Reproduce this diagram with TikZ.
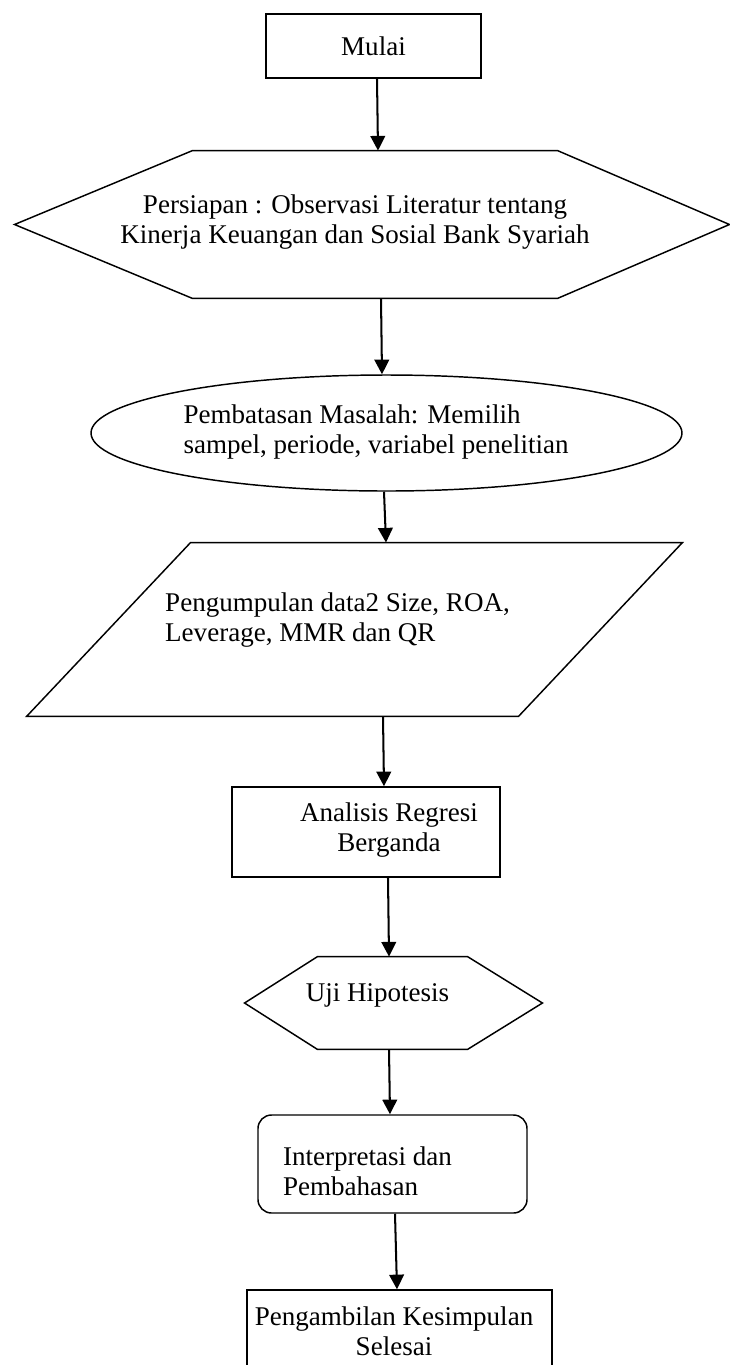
\documentclass[tikz,border=0pt]{standalone}
\usepackage{fontspec}
\setmainfont{Liberation Serif}
\usetikzlibrary{arrows.meta,shapes.geometric,calc}
\newcommand\pxw{0.444pt}
\tikzset{
  outline/.style={draw,line width=0.65pt},
  frm/.style 2 args={rectangle,inner sep=0pt,minimum width={#1*\pxw},minimum height={#2*\pxw}},
  txt/.style={inner sep=0pt,font=\fontsize{12}{13.3}\selectfont},
  flow/.style={line width=0.9pt,-{Triangle[length=6.5pt,width=6.5pt]}}
}
\begin{document}
\begin{tikzpicture}[x=\pxw,y=-\pxw,line join=miter]
  \useasboundingbox (0,0) rectangle (730,1365);
  % shapes
  \node (start) [frm={215}{64},outline,txt] at (373.5,46) {Mulai};
  \node (prep) [frm={714}{147}] at (372,224.5) {};
  \node (limit) [ellipse,outline,inner sep=0pt,minimum width={591*\pxw},minimum height={116*\pxw}] at (386.5,433) {};
  \node (collect) [frm={655}{173}] at (354.5,629.5) {};
  \node (regress) [frm={268}{90},outline] at (366,832) {};
  \node (test) [frm={297}{92}] at (393.5,1003) {};
  \node (discuss) [frm={269}{98},outline,rounded corners=6pt] at (392.5,1164) {};
  \node (finish) [frm={305}{79},outline] at (399.5,1329.5) {};
  \draw[outline] (prep.west) -- ($(prep.north west)+(178,0)$) -- ($(prep.north east)+(-172,0)$)
    -- (prep.east) -- ($(prep.south east)+(-172,0)$) -- ($(prep.south west)+(178,0)$) -- cycle;
  \draw[outline] ($(collect.north west)+(164,0)$) -- (collect.north east)
    -- ($(collect.south east)+(-164,0)$) -- (collect.south west) -- cycle;
  \draw[outline] (test.west) -- ($(test.north west)+(73,0)$) -- ($(test.north east)+(-75,0)$)
    -- (test.east) -- ($(test.south east)+(-75,0)$) -- ($(test.south west)+(73,0)$) -- cycle;
  % texts
  \node (prepText) [txt,align=center] at (355,222)
    {Persiapan : Observasi Literatur tentang\\Kinerja Keuangan dan Sosial Bank Syariah};
  \node (limitText) [txt,align=left] at (376,432)
    {Pembatasan Masalah: Memilih\\sampel, periode, variabel penelitian};
  \node (collectText) [txt,align=left] at (337.5,620)
    {Pengumpulan data2 Size, ROA,\\Leverage, MMR dan QR};
  \node (regressText) [txt,align=center] at (389,830) {Analisis Regresi\\Berganda};
  \node (testText) [txt] at (377.5,995) {Uji Hipotesis};
  \node (discussText) [txt,align=left] at (367.5,1171) {Interpretasi dan\\Pembahasan};
  \node (finishText) [txt,align=center] at (394,1331) {Pengambilan Kesimpulan\\Selesai};
  % arrows
  \draw[flow] (377,0 |- start.south) -- (378,0 |- prep.north);
  \draw[flow] (381,0 |- prep.south) -- (382,0 |- limit.north);
  \draw[flow] (384,0 |- limit.south) -- (386,0 |- collect.north);
  \draw[flow] (383,0 |- collect.south) -- (384,0 |- regress.north);
  \draw[flow] (388,0 |- regress.south) -- (389,0 |- test.north);
  \draw[flow] (389,0 |- test.south) -- (390,0 |- discuss.north);
  \draw[flow] (395,0 |- discuss.south) -- (397,0 |- finish.north);
\end{tikzpicture}
\end{document}
